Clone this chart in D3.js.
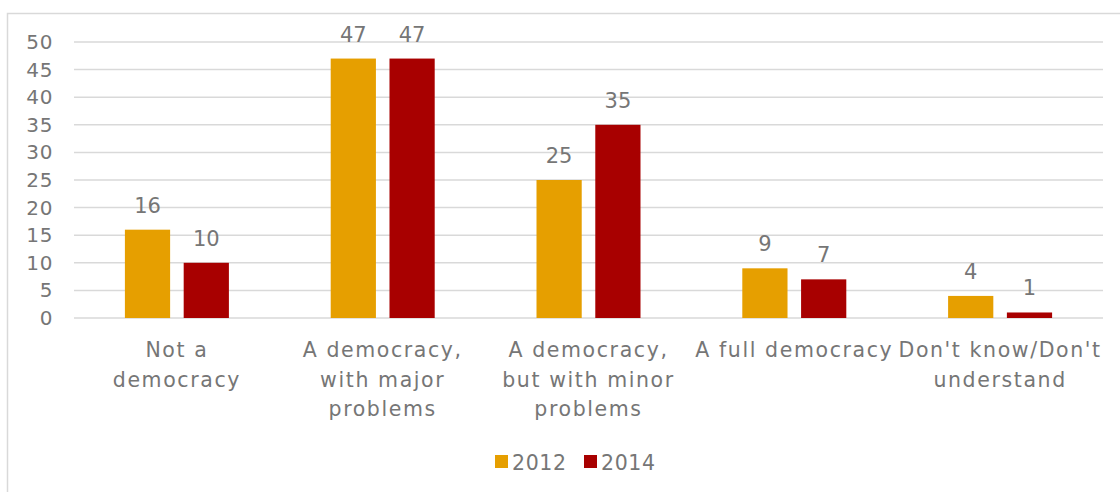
<!DOCTYPE html>
<html>
<head>
<meta charset="utf-8">
<script src="https://cdn.jsdelivr.net/npm/d3@7"></script>
<style>
  html, body { margin: 0; padding: 0; background: #fff; }
  svg { display: block; }
  text { font-family: "DejaVu Sans", sans-serif; fill: #767676; }
</style>
</head>
<body>
<svg id="chart" width="1120" height="492"></svg>
<script>
// Survey answers: how democratic the country is, share of respondents (%)
const categories = [
  "Not a|democracy",
  "A democracy,|with major|problems",
  "A democracy,|but with minor|problems",
  "A full democracy",
  "Don't know/Don't|understand"
];
const seriesNames = ["2012", "2014"];
const values2012 = [16, 47, 25, 9, 4];
const values2014 = [10, 47, 35, 7, 1];
const yTicks = [0, 5, 10, 15, 20, 25, 30, 35, 40, 45, 50];
const colors = ["#E69F00", "#A80000"];

const svg = d3.select("#chart");

// outer chart frame
svg.append("rect")
  .attr("x", 7.5).attr("y", 13.5)
  .attr("width", 1130).attr("height", 500)
  .attr("fill", "#fff").attr("stroke", "#d9d9d9").attr("stroke-width", 1.5);

const plotLeft = 74, plotRight = 1103, plotTop = 42, plotBottom = 318;

const x0 = d3.scaleBand().domain(d3.range(categories.length)).range([plotLeft, plotRight]);
const x1 = d3.scaleBand().domain([0, 1])
  .range([x0.bandwidth() / 2 - 52, x0.bandwidth() / 2 + 52]).paddingInner(0.2308);
const y = d3.scaleLinear().domain([0, 50]).range([plotBottom, plotTop]);

// gridlines
svg.append("g")
  .selectAll("line").data(yTicks).join("line")
  .attr("x1", plotLeft).attr("x2", plotRight)
  .attr("y1", d => y(d)).attr("y2", d => y(d))
  .attr("stroke", "#d9d9d9").attr("stroke-width", 1.5);

// y axis labels
const yAxis = d3.axisLeft(y).tickValues(yTicks).tickSize(0).tickPadding(0);
const gy = svg.append("g").attr("transform", "translate(53,0)").call(yAxis);
gy.select(".domain").remove();
gy.selectAll("text")
  .attr("font-size", 20).attr("fill", "#767676")
  .attr("letter-spacing", 0.6)
  .style("font-family", '"DejaVu Sans", sans-serif');

const series = [values2012, values2014];

// bars with value labels
series.forEach((vals, s) => {
  const g = svg.append("g");
  g.selectAll("rect").data(vals).join("rect")
    .attr("x", (d, i) => x0(i) + x1(s))
    .attr("width", x1.bandwidth())
    .attr("y", d => y(d))
    .attr("height", d => y(0) - y(d))
    .attr("fill", colors[s]);
  g.selectAll("text").data(vals).join("text")
    .attr("x", (d, i) => x0(i) + x1(s) + x1.bandwidth() / 2)
    .attr("y", d => y(d) - 17)
    .attr("text-anchor", "middle")
    .attr("font-size", 21)
    .text(d => d);
});

// category labels
const cat = svg.append("g");
categories.forEach((c, i) => {
  const cx = x0(i) + x0.bandwidth() / 2;
  const t = cat.append("text")
    .attr("x", cx)
    .attr("y", 357)
    .attr("text-anchor", "middle")
    .attr("font-size", 20.5)
    .attr("letter-spacing", 1.6);
  c.split("|").forEach((line, k) => {
    t.append("tspan")
      .attr("x", cx)
      .attr("dy", k === 0 ? 0 : 29.5)
      .text(line);
  });
});

// legend
const legend = svg.append("g");
const legendX = [495, 584];
seriesNames.forEach((name, s) => {
  legend.append("rect")
    .attr("x", legendX[s]).attr("y", 455)
    .attr("width", 13).attr("height", 13)
    .attr("fill", colors[s]);
  legend.append("text")
    .attr("x", legendX[s] + 17).attr("y", 470)
    .attr("font-size", 20.5)
    .attr("letter-spacing", 0.6)
    .text(name);
});
</script>
</body>
</html>
